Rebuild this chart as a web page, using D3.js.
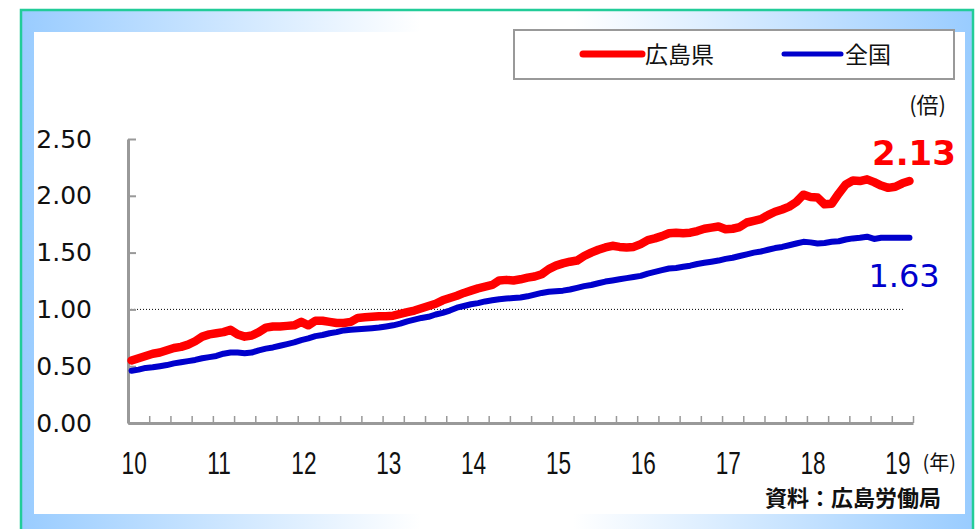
<!DOCTYPE html>
<html>
<head>
<meta charset="utf-8">
<title>有効求人倍率</title>
<script src="https://d3js.org/d3.v7.min.js"></script>
<style>
  body { margin: 0; background: #fff; }
</style>
</head>
<body>
<script>
// monthly values, Jan 2010 - Mar 2019
const hiroshima = [
  0.55, 0.57, 0.59, 0.61, 0.62, 0.64, 0.66, 0.67, 0.69, 0.72, 0.76, 0.78,
  0.79, 0.80, 0.82, 0.78, 0.76, 0.77, 0.80, 0.84, 0.85, 0.85, 0.855, 0.86,
  0.89, 0.86, 0.90, 0.90, 0.89, 0.88, 0.88, 0.89, 0.925, 0.93, 0.935, 0.94,
  0.94, 0.945, 0.96, 0.975, 0.99, 1.01, 1.03, 1.05, 1.08, 1.10, 1.12, 1.145,
  1.165, 1.185, 1.20, 1.215, 1.255, 1.26, 1.255, 1.265, 1.28, 1.29, 1.31, 1.355,
  1.385, 1.405, 1.42, 1.43, 1.47, 1.50, 1.525, 1.545, 1.56, 1.55, 1.545, 1.55,
  1.575, 1.61, 1.625, 1.645, 1.67, 1.675, 1.67, 1.675, 1.69, 1.71, 1.72, 1.73,
  1.705, 1.71, 1.725, 1.765, 1.78, 1.795, 1.83, 1.86, 1.88, 1.905, 1.945, 2.01,
  1.99, 1.985, 1.925, 1.93, 2.02, 2.10, 2.135, 2.13, 2.145, 2.12, 2.09, 2.07,
  2.08, 2.11, 2.13
];
const zenkoku = [
  0.46, 0.47, 0.485, 0.49, 0.50, 0.51, 0.525, 0.535, 0.545, 0.555, 0.57, 0.58,
  0.59, 0.61, 0.62, 0.62, 0.615, 0.62, 0.64, 0.655, 0.665, 0.68, 0.695, 0.71,
  0.73, 0.745, 0.765, 0.775, 0.79, 0.80, 0.815, 0.82, 0.825, 0.83, 0.835, 0.84,
  0.85, 0.86, 0.875, 0.895, 0.91, 0.925, 0.935, 0.955, 0.97, 0.99, 1.015, 1.03,
  1.045, 1.055, 1.07, 1.08, 1.09, 1.095, 1.10, 1.105, 1.115, 1.13, 1.145, 1.155,
  1.16, 1.165, 1.175, 1.19, 1.205, 1.215, 1.23, 1.245, 1.255, 1.265, 1.275, 1.285,
  1.295, 1.315, 1.33, 1.345, 1.36, 1.365, 1.375, 1.385, 1.40, 1.41, 1.42, 1.43,
  1.445, 1.455, 1.47, 1.485, 1.50, 1.51, 1.525, 1.54, 1.55, 1.565, 1.58, 1.595,
  1.59, 1.58, 1.585, 1.595, 1.60, 1.615, 1.625, 1.63, 1.64, 1.62, 1.63, 1.63,
  1.63, 1.63, 1.63
];
const yearLabels = ["10", "11", "12", "13", "14", "15", "16", "17", "18", "19"];
const yTicks = [0, 0.5, 1.0, 1.5, 2.0, 2.5];
const seriesNames = ["広島県", "全国"];
const lastLabels = ["2.13", "1.63"];

const W = 976, H = 529;
const red = "#ff0000", blue = "#0000cc";

const svg = d3.select("body").append("svg")
    .attr("width", W)
    .attr("height", H);

// frame
const defs = svg.append("defs");
const grad = defs.append("linearGradient").attr("id", "frameGrad")
    .attr("x1", "0%").attr("x2", "100%").attr("y1", "0%").attr("y2", "0%");
grad.append("stop").attr("offset", "0%").attr("stop-color", "#99ccff");
grad.append("stop").attr("offset", "42%").attr("stop-color", "#ffffff");
grad.append("stop").attr("offset", "58%").attr("stop-color", "#ffffff");
grad.append("stop").attr("offset", "100%").attr("stop-color", "#99ccff");

svg.append("rect").attr("x", 21).attr("y", 10).attr("width", 952).attr("height", 530)
    .attr("fill", "url(#frameGrad)")
    .attr("stroke", "#22cc99").attr("stroke-width", 2.5);
svg.append("rect").attr("x", 34).attr("y", 32).attr("width", 931).attr("height", 482)
    .attr("fill", "#ffffff");

// scales
const x = d3.scaleLinear().domain([-0.5, hiroshima.length - 0.5]).range([128, 913]);
const y = d3.scaleLinear().domain([0, 2.5]).range([423, 139]);

// reference line at 1.0
svg.append("line")
    .attr("x1", 128).attr("x2", 905)
    .attr("y1", y(1)).attr("y2", y(1))
    .attr("stroke", "#000").attr("stroke-width", 1)
    .attr("stroke-dasharray", "1,2");

// y axis
const yAxis = d3.axisLeft(y)
    .tickValues(yTicks)
    .tickFormat(d3.format(".2f"))
    .tickSizeInner(-8)
    .tickSizeOuter(0)
    .tickPadding(36);
const gy = svg.append("g").attr("transform", "translate(128,0)").call(yAxis);
gy.select(".domain").attr("stroke", "#999").attr("stroke-width", 3);
gy.selectAll(".tick line").attr("stroke", "#999").attr("stroke-width", 2);
gy.selectAll(".tick text")
    .attr("font-family", "'DejaVu Sans', sans-serif")
    .attr("font-size", 25)
    .attr("fill", "#111");

// x axis: quarterly ticks
const quarterTicks = d3.range(-0.5, hiroshima.length, 3);
const xAxis = d3.axisBottom(x)
    .tickValues(quarterTicks)
    .tickFormat("")
    .tickSizeInner(-7)
    .tickSizeOuter(0);
const gx = svg.append("g").attr("transform", "translate(0,423)").call(xAxis);
gx.select(".domain").attr("stroke", "#999").attr("stroke-width", 3);
gx.selectAll(".tick line").attr("stroke", "#999").attr("stroke-width", 1.5);

// year labels (narrow lettering)
const yearAxis = d3.axisBottom(x)
    .tickValues(yearLabels.map((d, i) => i * 12 + 0.3))
    .tickFormat((d, i) => yearLabels[i])
    .tickSize(0)
    .tickPadding(0);
const gyear = svg.append("g").attr("transform", "translate(0,423)").call(yearAxis);
gyear.select(".domain").remove();
gyear.selectAll(".tick text")
    .attr("y", 0).attr("dy", null)
    .attr("transform", "translate(0,51) scale(0.78,1.08)")
    .attr("font-family", "'Liberation Sans', sans-serif")
    .attr("font-size", 29)
    .attr("fill", "#111");

// lines
const line = d3.line()
    .x((d, i) => x(i))
    .y(d => y(d))
    .curve(d3.curveLinear);

svg.append("path")
    .datum(zenkoku)
    .attr("d", line)
    .attr("fill", "none")
    .attr("stroke", blue)
    .attr("stroke-width", 6)
    .attr("stroke-linejoin", "round")
    .attr("stroke-linecap", "round");

svg.append("path")
    .datum(hiroshima)
    .attr("d", line)
    .attr("fill", "none")
    .attr("stroke", red)
    .attr("stroke-width", 8.5)
    .attr("stroke-linejoin", "round")
    .attr("stroke-linecap", "round");

// end value labels
svg.append("text")
    .attr("x", 914).attr("y", 165)
    .attr("text-anchor", "middle")
    .attr("font-family", "'DejaVu Sans', sans-serif")
    .attr("font-weight", "bold")
    .attr("font-size", 34)
    .attr("fill", red)
    .text(lastLabels[0]);
svg.append("text")
    .attr("x", 904).attr("y", 287)
    .attr("text-anchor", "middle")
    .attr("font-family", "'DejaVu Sans', sans-serif")
    .attr("font-size", 32)
    .attr("fill", blue)
    .text(lastLabels[1]);

// unit labels
svg.append("text")
    .attr("x", 946).attr("y", 113)
    .attr("text-anchor", "end")
    .attr("font-family", "'Noto Sans CJK JP', sans-serif")
    .attr("font-size", 22)
    .attr("fill", "#111")
    .text("(倍)");
svg.append("text")
    .attr("x", 956).attr("y", 470)
    .attr("text-anchor", "end")
    .attr("font-family", "'Noto Sans CJK JP', sans-serif")
    .attr("font-size", 20)
    .attr("fill", "#111")
    .text("(年)");
svg.append("text")
    .attr("x", 941).attr("y", 506)
    .attr("text-anchor", "end")
    .attr("font-family", "'Noto Sans CJK JP', sans-serif")
    .attr("font-weight", "bold")
    .attr("font-size", 22)
    .attr("fill", "#111")
    .text("資料：広島労働局");

// legend
svg.append("rect")
    .attr("x", 514).attr("y", 30).attr("width", 440).attr("height", 49)
    .attr("fill", "#fff")
    .attr("stroke", "#999").attr("stroke-width", 2);
const legendItems = [
  { name: seriesNames[0], color: red, width: 7, x1: 583, x2: 642, tx: 645 },
  { name: seriesNames[1], color: blue, width: 5, x1: 784, x2: 841, tx: 845 }
];
const lg = svg.append("g").selectAll("g").data(legendItems).join("g");
lg.append("line")
    .attr("x1", d => d.x1).attr("x2", d => d.x2)
    .attr("y1", 54).attr("y2", 54)
    .attr("stroke", d => d.color)
    .attr("stroke-width", d => d.width)
    .attr("stroke-linecap", "round");
lg.append("text")
    .attr("x", d => d.tx).attr("y", 63)
    .attr("font-family", "'Noto Sans CJK JP', sans-serif")
    .attr("font-size", 23)
    .attr("fill", "#111")
    .text(d => d.name);
</script>
</body>
</html>
